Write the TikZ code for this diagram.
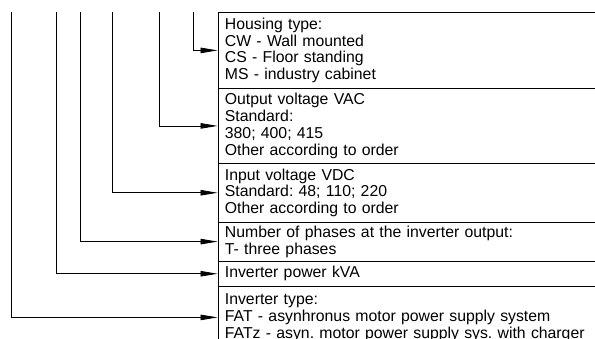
\documentclass[tikz,border=0pt]{standalone}
\usepackage{fontspec}
\setmainfont{Liberation Sans}
\usetikzlibrary{arrows.meta}
\frenchspacing
\begin{document}
\begin{tikzpicture}[x=1pt,y=-1pt,
  infobox/.style={draw, line width=0.8pt, anchor=north west, minimum width=420pt,
    text width=406pt, inner xsep=7pt, inner ysep=0pt, align=left,
    font=\fontsize{15.8}{16.8}\selectfont\frenchspacing},
  feed/.style={line width=0.8pt, -{Triangle[length=17pt,width=5.5pt]}}]
\useasboundingbox (0,0) rectangle (595,338);
\clip (0,0) rectangle (595,338);
\node[infobox, minimum height=76pt] (b1) at (217.5,12)
  {Housing type:\\CW - Wall mounted\\CS - Floor standing\\MS - industry cabinet};
\node[infobox, minimum height=75pt] (b2) at (217.5,88)
  {Output voltage VAC\\Standard:\\380; 400; 415\\Other according to order};
\node[infobox, minimum height=58.7pt] (b3) at (217.5,163)
  {Input voltage VDC\\Standard: 48; 110; 220\\Other according to order};
\node[infobox, minimum height=39pt] (b4) at (217.5,221.7)
  {Number of phases at the inverter output:\\T- three phases};
\node[infobox, minimum height=25.3pt] (b5) at (217.5,260.7)
  {Inverter power kVA};
\node[infobox, minimum height=62pt] (b6) at (217.5,286)
  {Inverter type:\\FAT - asynhronus motor power supply system\\FATz - asyn. motor power supply sys. with charger};
\coordinate (s1) at (193.3,12);
\coordinate (s2) at (159.3,12);
\coordinate (s3) at (112.7,12);
\coordinate (s4) at (80.7,12);
\coordinate (s5) at (56.7,12);
\coordinate (s6) at (11.7,12);
\draw[feed] (s1) |- (b1.west);
\draw[feed] (s2) |- (b2.west);
\draw[feed] (s3) |- (b3.west);
\draw[feed] (s4) |- (b4.west);
\draw[feed] (s5) |- (b5.west);
\draw[feed] (s6) |- (b6.west);
\end{tikzpicture}
\end{document}
